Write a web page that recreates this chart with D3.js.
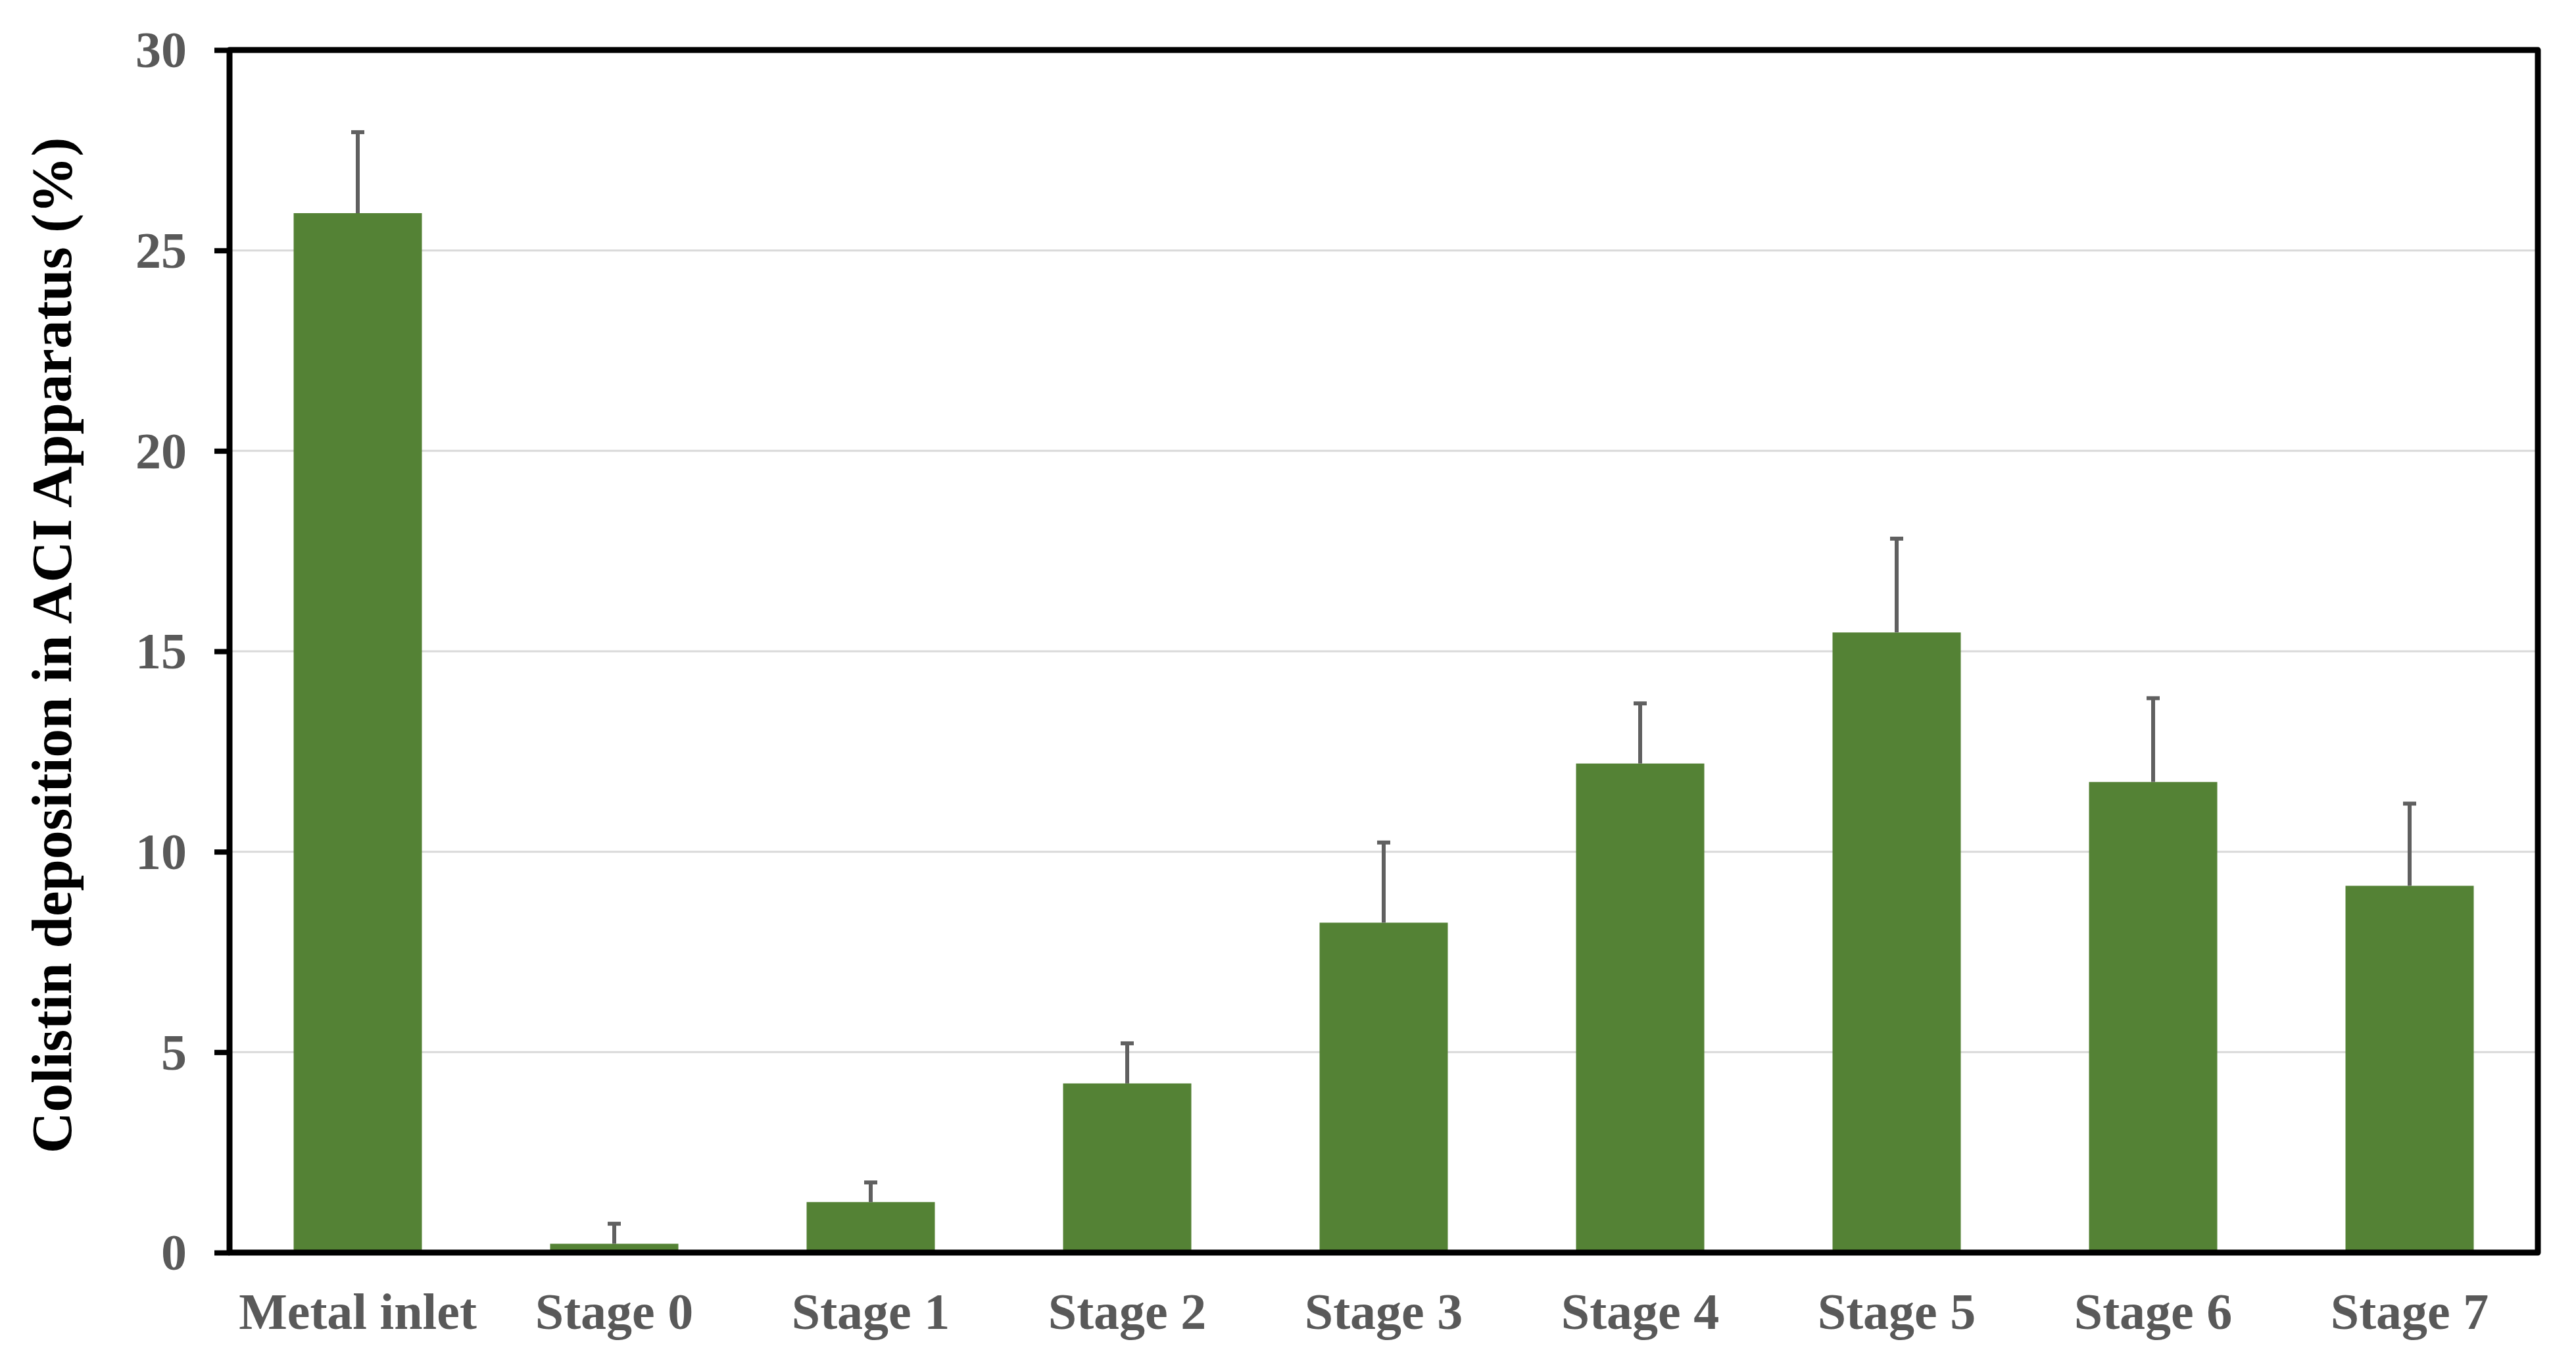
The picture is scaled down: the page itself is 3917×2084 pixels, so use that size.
<!DOCTYPE html>
<html>
<head>
<meta charset="utf-8">
<script src="https://cdn.jsdelivr.net/npm/d3@7"></script>
<style>
  html, body { margin: 0; padding: 0; background: #ffffff; }
  svg { display: block; }
</style>
</head>
<body>
<svg id="chart" width="3917" height="2084"></svg>
<script>
const categories = ["Metal inlet", "Stage 0", "Stage 1", "Stage 2", "Stage 3", "Stage 4", "Stage 5", "Stage 6", "Stage 7"];
const values = [25.93, 0.22, 1.26, 4.22, 8.23, 12.2, 15.47, 11.74, 9.15];
const errors = [2.02, 0.5, 0.49, 1.0, 2.0, 1.5, 2.34, 2.09, 2.05];
const yTicks = [0, 5, 10, 15, 20, 25, 30];
const yTitle = "Colistin deposition in ACI Apparatus (%)";

const svg = d3.select("#chart");
const W = 3917, H = 2084;
const m = { left: 349, right: W - 3859, top: 76, bottom: H - 1904 };
const iw = W - m.left - m.right, ih = H - m.top - m.bottom;

const font = "'Liberation Serif', 'Times New Roman', Times, serif";

const x = d3.scaleBand().domain(categories).range([0, iw]).paddingInner(0.5).paddingOuter(0.25);
const y = d3.scaleLinear().domain([0, 30]).range([ih, 0]);

const g = svg.append("g").attr("transform", `translate(${m.left},${m.top})`);

// gridlines
g.append("g").selectAll("line").data(yTicks.filter(t => t > 0 && t < 30)).join("line")
  .attr("x1", 0).attr("x2", iw)
  .attr("y1", d => y(d)).attr("y2", d => y(d))
  .attr("stroke", "#d9d9d9").attr("stroke-width", 3);

// bars
g.append("g").selectAll("rect").data(categories).join("rect")
  .attr("x", d => x(d))
  .attr("width", x.bandwidth())
  .attr("y", (d, i) => y(values[i]))
  .attr("height", (d, i) => y(0) - y(values[i]))
  .attr("fill", "#548235");

// error bars
const eb = g.append("g").attr("stroke", "#606060");
eb.selectAll("line.stem").data(categories).join("line").attr("class", "stem")
  .attr("x1", d => x(d) + x.bandwidth() / 2).attr("x2", d => x(d) + x.bandwidth() / 2)
  .attr("y1", (d, i) => y(values[i])).attr("y2", (d, i) => y(values[i] + errors[i]))
  .attr("stroke-width", 6);
eb.selectAll("line.cap").data(categories).join("line").attr("class", "cap")
  .attr("x1", d => x(d) + x.bandwidth() / 2 - 10).attr("x2", d => x(d) + x.bandwidth() / 2 + 10)
  .attr("y1", (d, i) => y(values[i] + errors[i])).attr("y2", (d, i) => y(values[i] + errors[i]))
  .attr("stroke-width", 6);

// y axis
const yAxis = g.append("g").call(d3.axisLeft(y).tickValues(yTicks).tickSize(23).tickPadding(42).tickFormat(d3.format("d")));
yAxis.select(".domain").remove();
yAxis.selectAll(".tick line").attr("stroke", "#000").attr("stroke-width", 8);
yAxis.selectAll(".tick text")
  .attr("fill", "#595959").attr("font-family", font).attr("font-weight", "bold").attr("font-size", 78)
  .attr("dy", "0.33em");

// x axis
const xAxis = g.append("g").attr("transform", `translate(0,${ih})`)
  .call(d3.axisBottom(x).tickSize(0).tickPadding(0));
xAxis.select(".domain").remove();
xAxis.selectAll(".tick text")
  .attr("fill", "#595959").attr("font-family", font).attr("font-weight", "bold").attr("font-size", 78)
  .attr("y", 116).attr("dy", 0);

// frame
g.append("rect").attr("x", 0).attr("y", 0).attr("width", iw).attr("height", ih)
  .attr("fill", "none").attr("stroke", "#000").attr("stroke-width", 9).attr("stroke-linejoin", "round");

// y title
svg.append("text")
  .attr("transform", `translate(108,${(213 + 1749) / 2}) rotate(-90)`)
  .attr("text-anchor", "middle")
  .attr("font-family", font).attr("font-weight", "bold").attr("font-size", 87)
  .attr("fill", "#000")
  .text(yTitle);
</script>
</body>
</html>
